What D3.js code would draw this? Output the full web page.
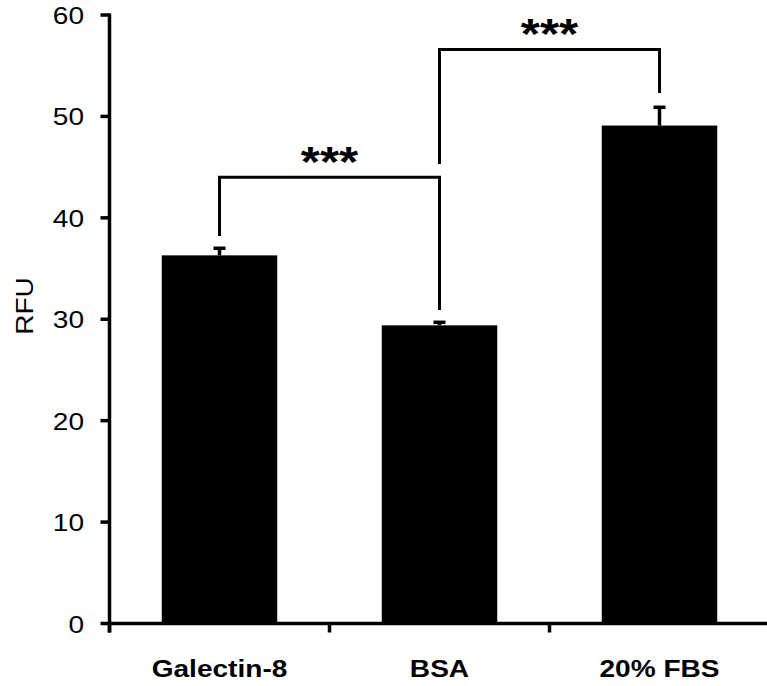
<!DOCTYPE html>
<html>
<head>
<meta charset="utf-8">
<script src="https://cdn.jsdelivr.net/npm/d3@7"></script>
<style>
  body { margin: 0; background: #fff; }
  text { font-family: Arial, "Liberation Sans", Helvetica, sans-serif; fill: #000; }
</style>
</head>
<body>
<div id="chart"></div>
<script>
// values
var categories = ["Galectin-8", "BSA", "20% FBS"];
var means = [36.3, 29.4, 49.1];
var errors = [0.7, 0.3, 1.8];
var yTicks = [0, 10, 20, 30, 40, 50, 60];

// significance brackets: from / to category index, bar level, leg ends
var bracketFrom = [0, 1];
var bracketTo = [1, 2];
var bracketLevel = [44.0, 56.6];
var legLeft = [38.2, 45.3];
var legRight = [30.9, 52.3];
var bracketLabel = ["***", "***"];

var W = 767, H = 686;
var stretch = 1.17;

var svg = d3.select("#chart")
  .append("svg")
  .attr("width", W)
  .attr("height", H);

var x = d3.scaleBand()
  .domain(categories)
  .range([109.5, 769.5])
  .paddingInner(0.475)
  .paddingOuter(0.2375);

var y = d3.scaleLinear()
  .domain([0, 60])
  .range([623.5, 15]);

function cx(i) { return x(categories[i]) + x.bandwidth() / 2; }

// text with the slightly wide look of the original
function label(g, px, py, str, size, weight, anchor, rot) {
  var t = g.append("g")
    .attr("transform", "translate(" + px + "," + py + ")" + (rot ? " rotate(" + rot + ")" : "") + " scale(" + stretch + ",1)")
    .append("text")
    .attr("text-anchor", anchor)
    .style("font-size", size + "px")
    .style("font-weight", weight)
    .text(str);
  return t;
}

// bars
svg.selectAll("rect.bar")
  .data(means)
  .enter()
  .append("rect")
  .attr("class", "bar")
  .attr("x", function(d, i) { return x(categories[i]); })
  .attr("y", function(d) { return y(d); })
  .attr("width", x.bandwidth())
  .attr("height", function(d) { return y(0) - y(d); })
  .attr("fill", "#000");

// error bars (upper half only shows)
var eb = svg.append("g").attr("stroke", "#000").attr("stroke-width", 3.5);
means.forEach(function(m, i) {
  eb.append("line")
    .attr("x1", cx(i)).attr("x2", cx(i))
    .attr("y1", y(m)).attr("y2", y(m + errors[i]));
  eb.append("line")
    .attr("x1", cx(i) - 6).attr("x2", cx(i) + 6)
    .attr("y1", y(m + errors[i])).attr("y2", y(m + errors[i]));
});

// axes
var ax = svg.append("g").attr("stroke", "#000").attr("stroke-width", 3.5).attr("fill", "none");
ax.append("line")
  .attr("x1", x.range()[0]).attr("x2", x.range()[1])
  .attr("y1", y(0)).attr("y2", y(0));
ax.append("line")
  .attr("x1", x.range()[0]).attr("x2", x.range()[0])
  .attr("y1", y(60) - 1.5).attr("y2", y(0) + 9);

yTicks.forEach(function(t) {
  ax.append("line")
    .attr("x1", x.range()[0] - 9).attr("x2", x.range()[0])
    .attr("y1", y(t)).attr("y2", y(t));
  label(svg, 84, y(t) + 9, String(t), 24, "normal", "end");
});

for (var k = 0; k <= categories.length; k++) {
  var bx = x.range()[0] + k * x.step();
  ax.append("line")
    .attr("x1", bx).attr("x2", bx)
    .attr("y1", y(0)).attr("y2", y(0) + 9);
}

categories.forEach(function(c, i) {
  label(svg, cx(i), 677, c, 24, "bold", "middle");
});

label(svg, 33, 306, "RFU", 24, "normal", "middle", -90);

// significance brackets
var br = svg.append("g").attr("stroke", "#000").attr("stroke-width", 3).attr("fill", "none");
bracketFrom.forEach(function(a, j) {
  var b = bracketTo[j];
  br.append("path")
    .attr("d", "M" + cx(a) + "," + y(legLeft[j]) +
               "V" + y(bracketLevel[j]) +
               "H" + cx(b) +
               "V" + y(legRight[j]));
  label(svg, (cx(a) + cx(b)) / 2, y(bracketLevel[j]) - 1, bracketLabel[j], 42, "bold", "middle");
});
</script>
</body>
</html>
